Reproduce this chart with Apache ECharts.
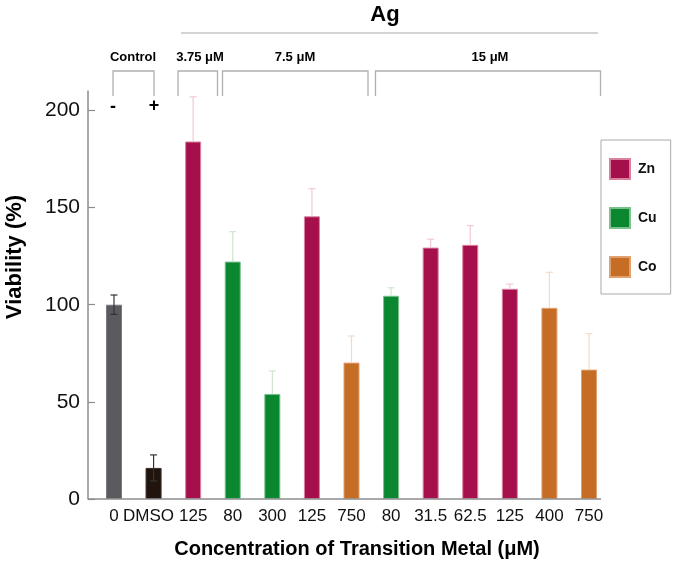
<!DOCTYPE html>
<html>
<head>
<meta charset="utf-8">
<script src="https://cdn.jsdelivr.net/npm/echarts@6/dist/echarts.min.js"></script>
<style>html,body{margin:0;padding:0;background:#fff;}#main{width:675px;height:572px;}</style>
</head>
<body>
<div id="main"></div>
<script>
// ---- data ----
var categories = ['0', 'DMSO', '125', '80', '300', '125', '750', '80', '31.5', '62.5', '125', '400', '750'];
var controlValues = [100, 16, null, null, null, null, null, null, null, null, null, null, null];
var znValues = [null, null, 184, null, null, 145.5, null, null, 129.4, 130.8, 108.2, null, null];
var cuValues = [null, null, null, 122.2, 54.1, null, null, 104.6, null, null, null, null, null];
var coValues = [null, null, null, null, null, null, 70.2, null, null, null, null, 98.4, 66.6];
var errors = [5, 6.7, 23, 15.4, 11.8, 14.2, 13.7, 4.1, 4.3, 9.9, 2.4, 18.3, 18.5];
var yTicks = [0, 50, 100, 150, 200];

var FONT = 'Liberation Sans, Arial, sans-serif';
var colors = {
  control: ['#5b5a5f', '#21140f'],
  Zn: '#a50f4b', Cu: '#0b8730', Co: '#c56c25'
};
var errColors = {
  control: '#333333', Zn: '#f2c9d6', Cu: '#cfe6cf', Co: '#f6d9c3'
};

function valueAt(i) {
  var arrs = [controlValues, znValues, cuValues, coValues];
  for (var k = 0; k < arrs.length; k++) if (arrs[k][i] != null) return arrs[k][i];
  return null;
}
function groupAt(i) {
  if (controlValues[i] != null) return 'control';
  if (znValues[i] != null) return 'Zn';
  if (cuValues[i] != null) return 'Cu';
  return 'Co';
}
var errData = categories.map(function (c, i) { return [i, valueAt(i), errors[i]]; });

var chart = echarts.init(document.getElementById('main'), null, {renderer: 'canvas'});

function barSeries(name, data, color, border) {
  return {
    name: name, type: 'bar', data: data, barWidth: 16, barGap: '-100%',
    itemStyle: {color: color, borderColor: border, borderWidth: 1},
    z: 2, animation: false
  };
}

var controlData = controlValues.map(function (v, i) {
  return v == null ? null : {value: v, itemStyle: {color: colors.control[i], borderColor: i === 0 ? '#7a797e' : '#3a2a24'}};
});

var axisCategories = categories.map(function (c, i) {
  return i === 1 ? {value: c, textStyle: {padding: [0, 10, 0, 0]}} : c;
});

var option = {
  animation: false,
  textStyle: {fontFamily: FONT},
  grid: {left: 94.2, right: 66.2, top: 91, bottom: 73, containLabel: false},
  legend: {
    data: ['Zn', 'Cu', 'Co'],
    orient: 'vertical', left: 601, top: 140,
    icon: 'rect', itemWidth: 20, itemHeight: 20, itemGap: 27,
    padding: [18, 14, 16, 8],
    borderColor: '#aaaaaa', borderWidth: 1,
    textStyle: {fontFamily: FONT, fontWeight: 'bold', fontSize: 14, color: '#111', padding: [0, 0, 0, 3]},
    selectedMode: false
  },
  xAxis: {
    type: 'category', data: axisCategories,
    axisLine: {show: false}, axisTick: {show: false},
    axisLabel: {fontFamily: FONT, fontSize: 17, color: '#111', margin: 9, interval: 0}
  },
  yAxis: {
    type: 'value', min: 0, max: 210, offset: 6.2,
    splitLine: {show: false},
    axisLine: {show: true, lineStyle: {color: '#8c8c8c', width: 1.5}},
    axisTick: {show: true, inside: true, length: 7, customValues: yTicks, lineStyle: {color: '#8c8c8c', width: 1.2}},
    axisLabel: {customValues: yTicks, fontFamily: FONT, fontSize: 21, color: '#111', margin: 8}
  },
  series: [
    {name: 'Control', type: 'bar', data: controlData, barWidth: 16, barGap: '-100%', itemStyle: {borderWidth: 1}, z: 2},
    barSeries('Zn', znValues, colors.Zn, '#d9809f'),
    barSeries('Cu', cuValues, colors.Cu, '#7cc08e'),
    barSeries('Co', coValues, colors.Co, '#e0a070'),
    {
      type: 'custom', name: 'err', data: errData, z: 5,
      renderItem: function (params, api) {
        var i = api.value(0), v = api.value(1), e = api.value(2);
        var g = groupAt(i);
        var col = errColors[g];
        var lowV = g === 'control' ? v - e : v;
        var top = api.coord([i, v + e]);
        var bot = api.coord([i, lowV]);
        var hw = 3.5;
        var children = [
          {type: 'line', shape: {x1: top[0], y1: top[1], x2: bot[0], y2: bot[1]}, style: {stroke: col, lineWidth: 1.2}},
          {type: 'line', shape: {x1: top[0] - hw, y1: top[1], x2: top[0] + hw, y2: top[1]}, style: {stroke: col, lineWidth: 1.2}}
        ];
        if (g === 'control') {
          children.push({type: 'line', shape: {x1: bot[0] - hw, y1: bot[1], x2: bot[0] + hw, y2: bot[1]}, style: {stroke: col, lineWidth: 1.2}});
        }
        return {type: 'group', children: children};
      }
    }
  ],
  graphic: [
    // x axis line
    {type: 'line', shape: {x1: 88, y1: 499, x2: 601, y2: 499}, style: {stroke: '#8c8c8c', lineWidth: 1.5}, z: 10},
    // titles
    {type: 'text', x: 15, y: 257, rotation: Math.PI / 2, style: {text: 'Viability (%)', font: 'bold 22px ' + FONT, fill: '#000', textAlign: 'center', textVerticalAlign: 'middle'}},
    {type: 'text', x: 357, y: 549, style: {text: 'Concentration of Transition Metal (μM)', font: 'bold 20px ' + FONT, fill: '#000', textAlign: 'center', textVerticalAlign: 'middle'}},
    // Ag header
    {type: 'text', x: 385, y: 15, style: {text: 'Ag', font: 'bold 22px ' + FONT, fill: '#000', textAlign: 'center', textVerticalAlign: 'middle'}},
    {type: 'line', shape: {x1: 181, y1: 33, x2: 598, y2: 33}, style: {stroke: '#aaaaaa', lineWidth: 1.2}},
    // group labels
    {type: 'text', x: 133, y: 57, style: {text: 'Control', font: 'bold 13px ' + FONT, fill: '#000', textAlign: 'center', textVerticalAlign: 'middle'}},
    {type: 'text', x: 200, y: 57, style: {text: '3.75 μM', font: 'bold 13px ' + FONT, fill: '#000', textAlign: 'center', textVerticalAlign: 'middle'}},
    {type: 'text', x: 295, y: 57, style: {text: '7.5 μM', font: 'bold 13px ' + FONT, fill: '#000', textAlign: 'center', textVerticalAlign: 'middle'}},
    {type: 'text', x: 490, y: 57, style: {text: '15 μM', font: 'bold 13px ' + FONT, fill: '#000', textAlign: 'center', textVerticalAlign: 'middle'}},
    // brackets
    {type: 'polyline', shape: {points: [[113, 96], [113, 71], [154, 71], [154, 96]]}, style: {stroke: '#b0b0b0', lineWidth: 1.3, fill: null}},
    {type: 'polyline', shape: {points: [[178, 96], [178, 71], [217.5, 71], [217.5, 96]]}, style: {stroke: '#b0b0b0', lineWidth: 1.3, fill: null}},
    {type: 'polyline', shape: {points: [[222.5, 96], [222.5, 71], [368, 71], [368, 96]]}, style: {stroke: '#b0b0b0', lineWidth: 1.3, fill: null}},
    {type: 'polyline', shape: {points: [[375.5, 96], [375.5, 71], [600.5, 71], [600.5, 96]]}, style: {stroke: '#b0b0b0', lineWidth: 1.3, fill: null}},
    // - and +
    {type: 'text', x: 113, y: 107, style: {text: '-', font: 'bold 18px ' + FONT, fill: '#000', textAlign: 'center', textVerticalAlign: 'middle'}},
    {type: 'text', x: 154, y: 106, style: {text: '+', font: 'bold 18px ' + FONT, fill: '#000', textAlign: 'center', textVerticalAlign: 'middle'}}
  ]
};
chart.setOption(option);
</script>
</body>
</html>
